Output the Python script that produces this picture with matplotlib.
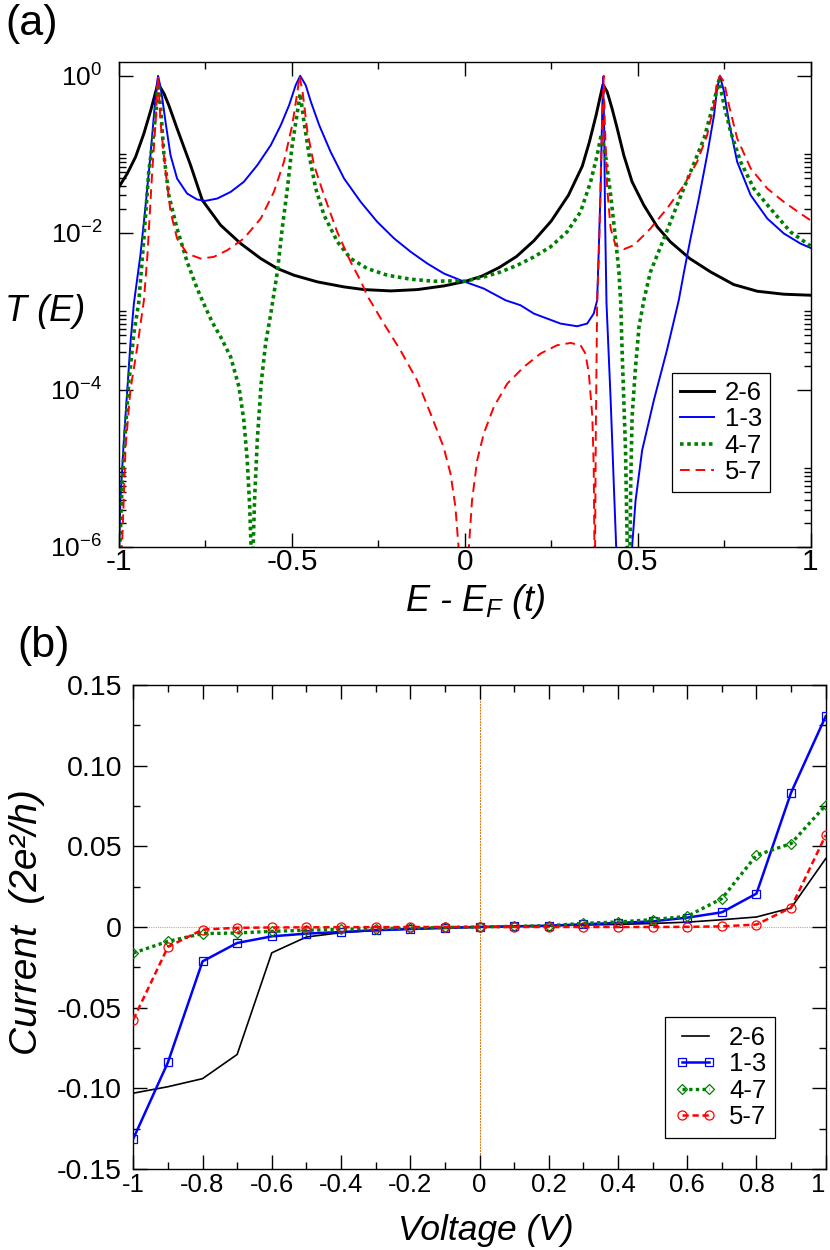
import numpy as np
import matplotlib
matplotlib.use('Agg')
import matplotlib.pyplot as plt
from matplotlib.ticker import FixedLocator, FixedFormatter, MultipleLocator, NullFormatter

plt.rcParams['font.family'] = ['Liberation Sans', 'DejaVu Sans']
plt.rcParams['mathtext.fontset'] = 'custom'
plt.rcParams['mathtext.rm'] = 'Liberation Sans'
plt.rcParams['mathtext.it'] = 'Liberation Sans:italic'
plt.rcParams['axes.unicode_minus'] = False

# ---------------- panel (a): transmission, log10 T(E) ----------------
E_26 = [-1.000, -0.976, -0.952, -0.928, -0.908, -0.894, -0.888, -0.880, -0.870, -0.856,
        -0.832, -0.793, -0.759, -0.706, -0.648, -0.590, -0.542, -0.494, -0.426, -0.349,
        -0.291, -0.214, -0.137, -0.060, 0.000, 0.050, 0.100, 0.150, 0.200, 0.250,
        0.300, 0.340, 0.360, 0.380, 0.390, 0.400, 0.412, 0.426, 0.441, 0.460,
        0.484, 0.518, 0.557, 0.595, 0.651, 0.711, 0.778, 0.846, 0.923, 1.000]
logT_26 = [-1.414, -1.244, -1.032, -0.735, -0.437, -0.204, -0.110, -0.150, -0.225, -0.374,
           -0.671, -1.138, -1.584, -1.902, -2.136, -2.327, -2.454, -2.539, -2.624, -2.688,
           -2.722, -2.739, -2.722, -2.675, -2.620, -2.550, -2.440, -2.300, -2.100, -1.850,
           -1.520, -1.150, -0.850, -0.500, -0.300, -0.110, -0.204, -0.416, -0.671, -1.011,
           -1.350, -1.648, -1.924, -2.115, -2.327, -2.497, -2.658, -2.743, -2.781, -2.794]

E_13 = [-1.000, -0.996, -0.986, -0.976, -0.967, -0.957, -0.938, -0.923, -0.909, -0.899,
        -0.891, -0.887, -0.881, -0.875, -0.865, -0.851, -0.832, -0.803, -0.774, -0.750,
        -0.716, -0.677, -0.639, -0.600, -0.561, -0.532, -0.508, -0.489, -0.476, -0.460,
        -0.445, -0.421, -0.388, -0.349, -0.301, -0.253, -0.204, -0.156, -0.108, -0.060,
        -0.012, 0.055, 0.118, 0.161, 0.200, 0.277, 0.325, 0.354, 0.373, 0.383,
        0.393, 0.397, 0.400, 0.403, 0.406, 0.410, 0.422, 0.431, 0.438, 0.460,
        0.484, 0.494, 0.513, 0.547, 0.585, 0.619, 0.634, 0.653, 0.677, 0.701,
        0.721, 0.730, 0.738, 0.750, 0.764, 0.788, 0.827, 0.875, 0.923, 0.971, 1.000]
logT_13 = [-6.10, -5.40, -4.64, -4.00, -3.41, -2.90, -2.28, -1.648, -1.010, -0.500,
           -0.120, 0.000, -0.120, -0.280, -0.600, -1.011, -1.308, -1.499, -1.575, -1.592,
           -1.563, -1.478, -1.350, -1.138, -0.883, -0.628, -0.374, -0.119, 0.000, -0.119,
           -0.331, -0.628, -0.968, -1.308, -1.605, -1.860, -2.072, -2.242, -2.391, -2.518,
           -2.603, -2.709, -2.858, -2.921, -3.028, -3.155, -3.189, -3.155, -3.028, -2.858,
           -1.435, -0.586, -0.013, -0.586, -1.860, -2.900, -4.130, -5.190, -6.000, -8.000,
           -6.000, -5.410, -4.770, -4.130, -3.490, -2.858, -2.500, -2.072, -1.563, -1.011,
           -0.501, -0.161, 0.000, -0.204, -0.586, -1.096, -1.520, -1.817, -2.008, -2.136, -2.191]

E_47 = [-1.000, -0.996, -0.991, -0.981, -0.972, -0.957, -0.943, -0.928, -0.914, -0.899,
        -0.890, -0.886, -0.882, -0.878, -0.870, -0.856, -0.832, -0.803, -0.774, -0.750,
        -0.730, -0.706, -0.677, -0.653, -0.639, -0.629, -0.622, -0.618, -0.615, -0.612,
        -0.608, -0.600, -0.589, -0.576, -0.561, -0.542, -0.528, -0.513, -0.499, -0.484,
        -0.476, -0.465, -0.450, -0.431, -0.407, -0.368, -0.330, -0.282, -0.224, -0.156,
        -0.089, -0.022, 0.000, 0.055, 0.104, 0.152, 0.200, 0.248, 0.296, 0.335,
        0.364, 0.383, 0.395, 0.407, 0.422, 0.436, 0.446, 0.451, 0.455, 0.460,
        0.465, 0.470, 0.474, 0.478, 0.480, 0.484, 0.494, 0.504, 0.518, 0.537,
        0.576, 0.614, 0.653, 0.692, 0.721, 0.735, 0.750, 0.769, 0.798, 0.836,
        0.884, 0.942, 1.000]
logT_47 = [-6.30, -5.83, -5.19, -4.47, -3.92, -3.28, -2.89, -2.072, -1.223, -0.713,
           -0.300, -0.100, -0.300, -0.501, -1.011, -1.520, -1.945, -2.369, -2.709, -2.950,
           -3.140, -3.325, -3.580, -3.962, -4.386, -4.900, -5.490, -6.000, -7.500, -6.000,
           -5.410, -4.640, -3.920, -3.410, -3.028, -2.497, -1.945, -1.435, -0.883, -0.459,
           -0.225, -0.586, -1.011, -1.435, -1.775, -2.115, -2.327, -2.454, -2.539, -2.590,
           -2.616, -2.610, -2.616, -2.561, -2.497, -2.412, -2.306, -2.178, -1.987, -1.732,
           -1.350, -1.011, -0.740, -1.011, -1.520, -2.072, -2.497, -2.880, -3.490, -4.130,
           -4.770, -6.000, -7.500, -6.000, -5.190, -4.340, -3.707, -3.197, -2.858, -2.497,
           -2.072, -1.648, -1.223, -0.798, -0.331, -0.055, -0.374, -0.713, -1.096, -1.435,
           -1.690, -1.987, -2.166]

E_57 = [-0.994, -0.991, -0.986, -0.981, -0.967, -0.947, -0.928, -0.918, -0.904, -0.894,
        -0.887, -0.880, -0.865, -0.851, -0.832, -0.803, -0.764, -0.726, -0.687, -0.639,
        -0.590, -0.552, -0.523, -0.499, -0.484, -0.478, -0.469, -0.455, -0.436, -0.407,
        -0.369, -0.330, -0.300, -0.282, -0.234, -0.186, -0.138, -0.099, -0.061, -0.041,
        -0.027, -0.018, 0.000, 0.012, 0.021, 0.036, 0.055, 0.084, 0.123, 0.171,
        0.219, 0.267, 0.306, 0.335, 0.349, 0.359, 0.369, 0.373, 0.375, 0.376,
        0.377, 0.379, 0.383, 0.388, 0.395, 0.400, 0.402, 0.405, 0.412, 0.422,
        0.436, 0.460, 0.489, 0.537, 0.585, 0.634, 0.672, 0.701, 0.721, 0.730,
        0.738, 0.750, 0.764, 0.788, 0.827, 0.875, 0.923, 0.971, 1.000]
logT_57 = [-6.50, -5.96, -5.36, -4.73, -4.00, -3.45, -2.86, -2.30, -1.223, -0.586,
           0.000, -0.586, -1.223, -1.732, -2.072, -2.263, -2.327, -2.306, -2.221, -2.072,
           -1.817, -1.478, -1.096, -0.628, -0.204, 0.000, -0.204, -0.713, -1.138, -1.520,
           -1.987, -2.370, -2.620, -2.800, -3.155, -3.495, -3.877, -4.300, -4.730, -5.070,
           -5.490, -6.000, -7.500, -6.000, -5.410, -4.895, -4.556, -4.216, -3.919, -3.707,
           -3.537, -3.431, -3.401, -3.431, -3.537, -3.792, -4.340, -4.980, -6.000, -7.000,
           -6.000, -4.556, -2.858, -2.285, -1.011, -0.246, 0.000, -0.586, -1.435, -1.945,
           -2.157, -2.208, -2.157, -1.945, -1.690, -1.393, -1.096, -0.756, -0.374, -0.076,
           0.000, -0.076, -0.374, -0.798, -1.180, -1.435, -1.605, -1.754, -1.839]

T_ticks = [1e-6, 1e-4, 1e-2, 1.0]
T_ticklabels = [r'$\mathregular{10^{-6}}$', r'$\mathregular{10^{-4}}$',
                r'$\mathregular{10^{-2}}$', r'$\mathregular{10^{0}}$']
E_ticks = [-1.0, -0.5, 0.0, 0.5, 1.0]
E_ticklabels = ['-1', '-0.5', '0', '0.5', '1']

# ---------------- panel (b): I-V curves ----------------
V = [-1.0, -0.9, -0.8, -0.7, -0.6, -0.5, -0.4, -0.3, -0.2, -0.1, 0.0,
     0.1, 0.2, 0.3, 0.4, 0.5, 0.6, 0.7, 0.8, 0.9, 1.0]
I_26 = [-0.1030, -0.0990, -0.0940, -0.0790, -0.0160, -0.0062, -0.0035, -0.0021, -0.0012, -0.0005, 0.0,
        0.0004, 0.0008, 0.0012, 0.0016, 0.0022, 0.0030, 0.0045, 0.0062, 0.0118, 0.0424]
I_13 = [-0.1312, -0.0839, -0.0213, -0.0099, -0.0058, -0.0041, -0.0031, -0.0020, -0.0013, -0.0006, 0.0,
        0.0004, 0.0008, 0.0017, 0.0025, 0.0035, 0.0058, 0.0091, 0.0207, 0.0833, 0.1306]
I_47 = [-0.0161, -0.0089, -0.0041, -0.0037, -0.0027, -0.0020, -0.0015, -0.0010, -0.0007, -0.0003, 0.0,
        0.0004, 0.0008, 0.0023, 0.0031, 0.0046, 0.0066, 0.0176, 0.0445, 0.0517, 0.0755]
I_57 = [-0.0574, -0.0124, -0.0016, -0.0005, -0.0003, -0.0002, -0.0001, -0.0001, 0.0, 0.0, 0.0,
        0.0, 0.0, 0.0, 0.0, 0.0, 0.0001, 0.0004, 0.0015, 0.0120, 0.0569]
V_ticks = [-1.0, -0.8, -0.6, -0.4, -0.2, 0.0, 0.2, 0.4, 0.6, 0.8, 1.0]
V_ticklabels = ['-1', '-0.8', '-0.6', '-0.4', '-0.2', '0', '0.2', '0.4', '0.6', '0.8', '1']
I_ticks = [-0.15, -0.10, -0.05, 0.0, 0.05, 0.10, 0.15]
I_ticklabels = ['-0.15', '-0.10', '-0.05', '0', '0.05', '0.10', '0.15']

labels = ['2-6', '1-3', '4-7', '5-7']
colors = ['#000000', '#0000ff', '#008000', '#ff0000']

W, H = 830, 1250
fig = plt.figure(figsize=(W / 100, H / 100), dpi=100)

def fx(px):
    return px / W

def fy(py):
    return 1 - py / H

ax1 = fig.add_axes([fx(119), fy(547), (810.5 - 119) / W, (547 - 62) / H])
ax2 = fig.add_axes([fx(133.3), fy(1169), (825.7 - 133.3) / W, (1169 - 685) / H])

# ---- panel (a)
ax1.plot(E_26, 10 ** np.array(logT_26), color=colors[0], lw=2.1, label=labels[0])
ax1.plot(E_13, 10 ** np.array(logT_13), color=colors[1], lw=1.4, label=labels[1])
ax1.plot(E_47, 10 ** np.array(logT_47), color=colors[2], lw=2.6, ls=(0, (1, 1)),
         dash_capstyle='butt', label=labels[2])
ax1.plot(E_57, 10 ** np.array(logT_57), color=colors[3], lw=1.4, ls=(0, (5, 3)), label=labels[3])
ax1.set_yscale('log')
ax1.set_xlim(-1, 1)
ax1.set_ylim(1e-6, 1.5)
ax1.yaxis.set_major_locator(FixedLocator(T_ticks))
ax1.yaxis.set_major_formatter(FixedFormatter(T_ticklabels))
ax1.yaxis.set_minor_locator(FixedLocator([k * 10.0 ** e for e in (-6, -4, -2) for k in range(2, 11)]))
ax1.yaxis.set_minor_formatter(NullFormatter())
ax1.xaxis.set_major_locator(FixedLocator(E_ticks))
ax1.xaxis.set_major_formatter(FixedFormatter(E_ticklabels))
ax1.xaxis.set_minor_locator(MultipleLocator(0.25))
ax1.tick_params(which='both', direction='in', top=True, right=True, width=1.0)
ax1.tick_params(which='major', length=10)
ax1.tick_params(which='minor', length=5)
ax1.tick_params(axis='x', labelsize=21.5, pad=1)
ax1.tick_params(axis='y', labelsize=19, pad=12)
leg1 = ax1.legend(loc='upper left', bbox_to_anchor=((672 - 119) / 691.5, (547 - 373) / 485),
                  borderaxespad=0, fontsize=18.5, handlelength=1.35, handletextpad=0.4,
                  labelspacing=0.1, borderpad=0.3, fancybox=False, framealpha=1,
                  edgecolor='black')
leg1.get_frame().set_linewidth(0.9)

# ---- panel (b)
ax2.axhline(0, color='#ffa500', lw=0.8, ls=(0, (1, 1)), zorder=1)
ax2.axvline(0, color='#e07000', lw=0.7, ls=(0, (2, 1)), zorder=1)
ax2.plot(V, I_26, color=colors[0], lw=1.2, label=labels[0], zorder=3)
ax2.plot(V, I_13, color=colors[1], lw=1.8, marker='s', ms=6, mfc='none', mec=colors[1],
         mew=0.9, label=labels[1], zorder=4)
ax2.plot(V, I_47, color=colors[2], lw=2.4, ls=(0, (1, 1)), dash_capstyle='butt', marker='D',
         ms=5.2, mfc='none', mec=colors[2], mew=0.9, label=labels[2], zorder=5)
ax2.plot(V, I_57, color=colors[3], lw=1.8, ls=(0, (2.5, 1.5)), marker='o', ms=6.5, mfc='none',
         mec=colors[3], mew=0.9, label=labels[3], zorder=6)
ax2.set_xlim(-1, 1)
ax2.set_ylim(-0.15, 0.15)
ax2.xaxis.set_major_locator(FixedLocator(V_ticks))
ax2.xaxis.set_major_formatter(FixedFormatter(V_ticklabels))
ax2.xaxis.set_minor_locator(MultipleLocator(0.1))
ax2.yaxis.set_major_locator(FixedLocator(I_ticks))
ax2.yaxis.set_major_formatter(FixedFormatter(I_ticklabels))
ax2.yaxis.set_minor_locator(MultipleLocator(0.025))
ax2.tick_params(which='both', direction='in', top=True, right=True, width=1.0)
ax2.tick_params(which='major', length=10)
ax2.tick_params(which='minor', length=5)
ax2.tick_params(axis='x', labelsize=18.5, pad=3)
ax2.tick_params(axis='y', labelsize=20.5, pad=8)
leg2 = ax2.legend(loc='upper left', bbox_to_anchor=((665 - 133.3) / 692.4, (1169 - 1016.7) / 484),
                  borderaxespad=0, fontsize=18.5, handlelength=1.65, handletextpad=0.5,
                  labelspacing=0.1, borderpad=0.35, fancybox=False, framealpha=1,
                  edgecolor='black', numpoints=2)
leg2.get_frame().set_linewidth(0.9)

for ax in (ax1, ax2):
    for s in ax.spines.values():
        s.set_linewidth(1.0)

fig.canvas.draw()
ax2.get_xticklabels()[-1].set_horizontalalignment('right')

# ---- texts
fig.text(fx(5), fy(35), '(a)', fontsize=31, ha='left', va='baseline')
fig.text(fx(17), fy(657), '(b)', fontsize=31, ha='left', va='baseline')
fig.text(fx(5), fy(321), 'T (E)', fontsize=26, style='italic', ha='left', va='baseline')
fig.text(fx(475), fy(611), r'E - $E_F$ (t)', fontsize=26, style='italic', ha='center', va='baseline')
fig.text(fx(27), fy(922), 'Current  (2e\u00b2/h)', fontsize=28, style='italic', rotation=90,
         ha='center', va='center')
fig.text(fx(486), fy(1240), 'Voltage (V)', fontsize=25.5, style='italic', ha='center', va='baseline')

fig.savefig('out.png', dpi=100)
